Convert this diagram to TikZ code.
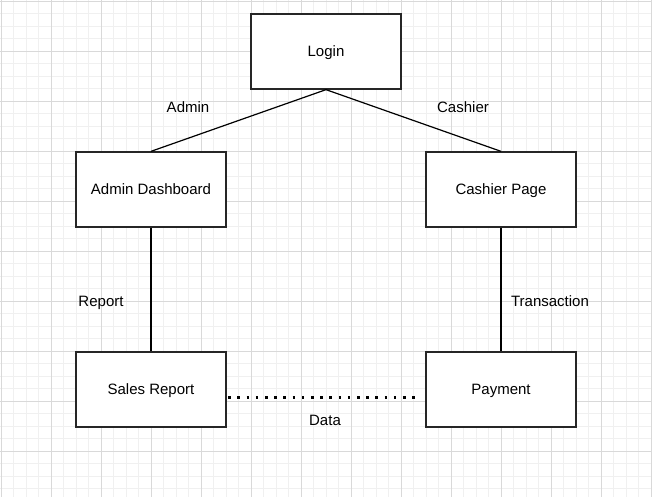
\documentclass[tikz,border=0pt]{standalone}
\usepackage{fontspec}
\setmainfont{Liberation Sans}
\begin{document}
\begin{tikzpicture}[x=1pt,y=-1pt,
  box/.style={draw=black!85,line width=1.3pt,fill=white,minimum width=150pt,minimum height=75pt,inner sep=0pt,text height=14pt,text depth=3.2pt,font=\fontsize{15}{18}\selectfont},
  lbl/.style={font=\fontsize{15}{18}\selectfont,inner sep=0pt,text height=14pt,text depth=3.2pt},
  conn/.style={draw=black,line width=1.2pt}]
\useasboundingbox (0,0) rectangle (652,497);
\fill[white] (0,0) rectangle (652,497);
\foreach \i in {0,...,52} {\draw[line width=0.6pt,color=black!6] ({1+12.5*\i},0) -- ({1+12.5*\i},497);}
\foreach \i in {0,...,40} {\draw[line width=0.6pt,color=black!6] (0,{1+12.5*\i}) -- (652,{1+12.5*\i});}
\foreach \i in {0,...,13} {\draw[line width=0.6pt,color=black!15] ({1+50*\i},0) -- ({1+50*\i},497);}
\foreach \i in {0,...,9} {\draw[line width=0.6pt,color=black!15] (0,{1+50*\i}) -- (652,{1+50*\i});}
\node[box] (login) at (326,51.5) {Login};
\node[box] (admin) at (151,189.5) {Admin Dashboard};
\node[box] (cashier) at (501,189.5) {Cashier Page};
\node[box] (sales) at (151,389.5) {Sales Report};
\node[box] (pay) at (501,389.5) {Payment};
\draw[conn] (login.south) -- (admin.north);
\draw[conn] (login.south) -- (cashier.north);
\draw[conn] (admin.south) -- (sales.north);
\draw[conn] (cashier.south) -- (pay.north);
\coordinate (dend) at (421,397.5);
\draw[line width=2.6pt,dash pattern=on 2.6pt off 6.6pt] ([xshift=1.5pt,yshift=-8pt]sales.east) -- (dend);
\node[lbl] (ladmin) at (188,107) {Admin};
\node[lbl] (lcash) at (463,107) {Cashier};
\node[lbl] (lrep) at (101,301) {Report};
\node[lbl] (ltrans) at (550,301) {Transaction};
\node[lbl] (ldata) at (325,420) {Data};
\end{tikzpicture}
\end{document}
